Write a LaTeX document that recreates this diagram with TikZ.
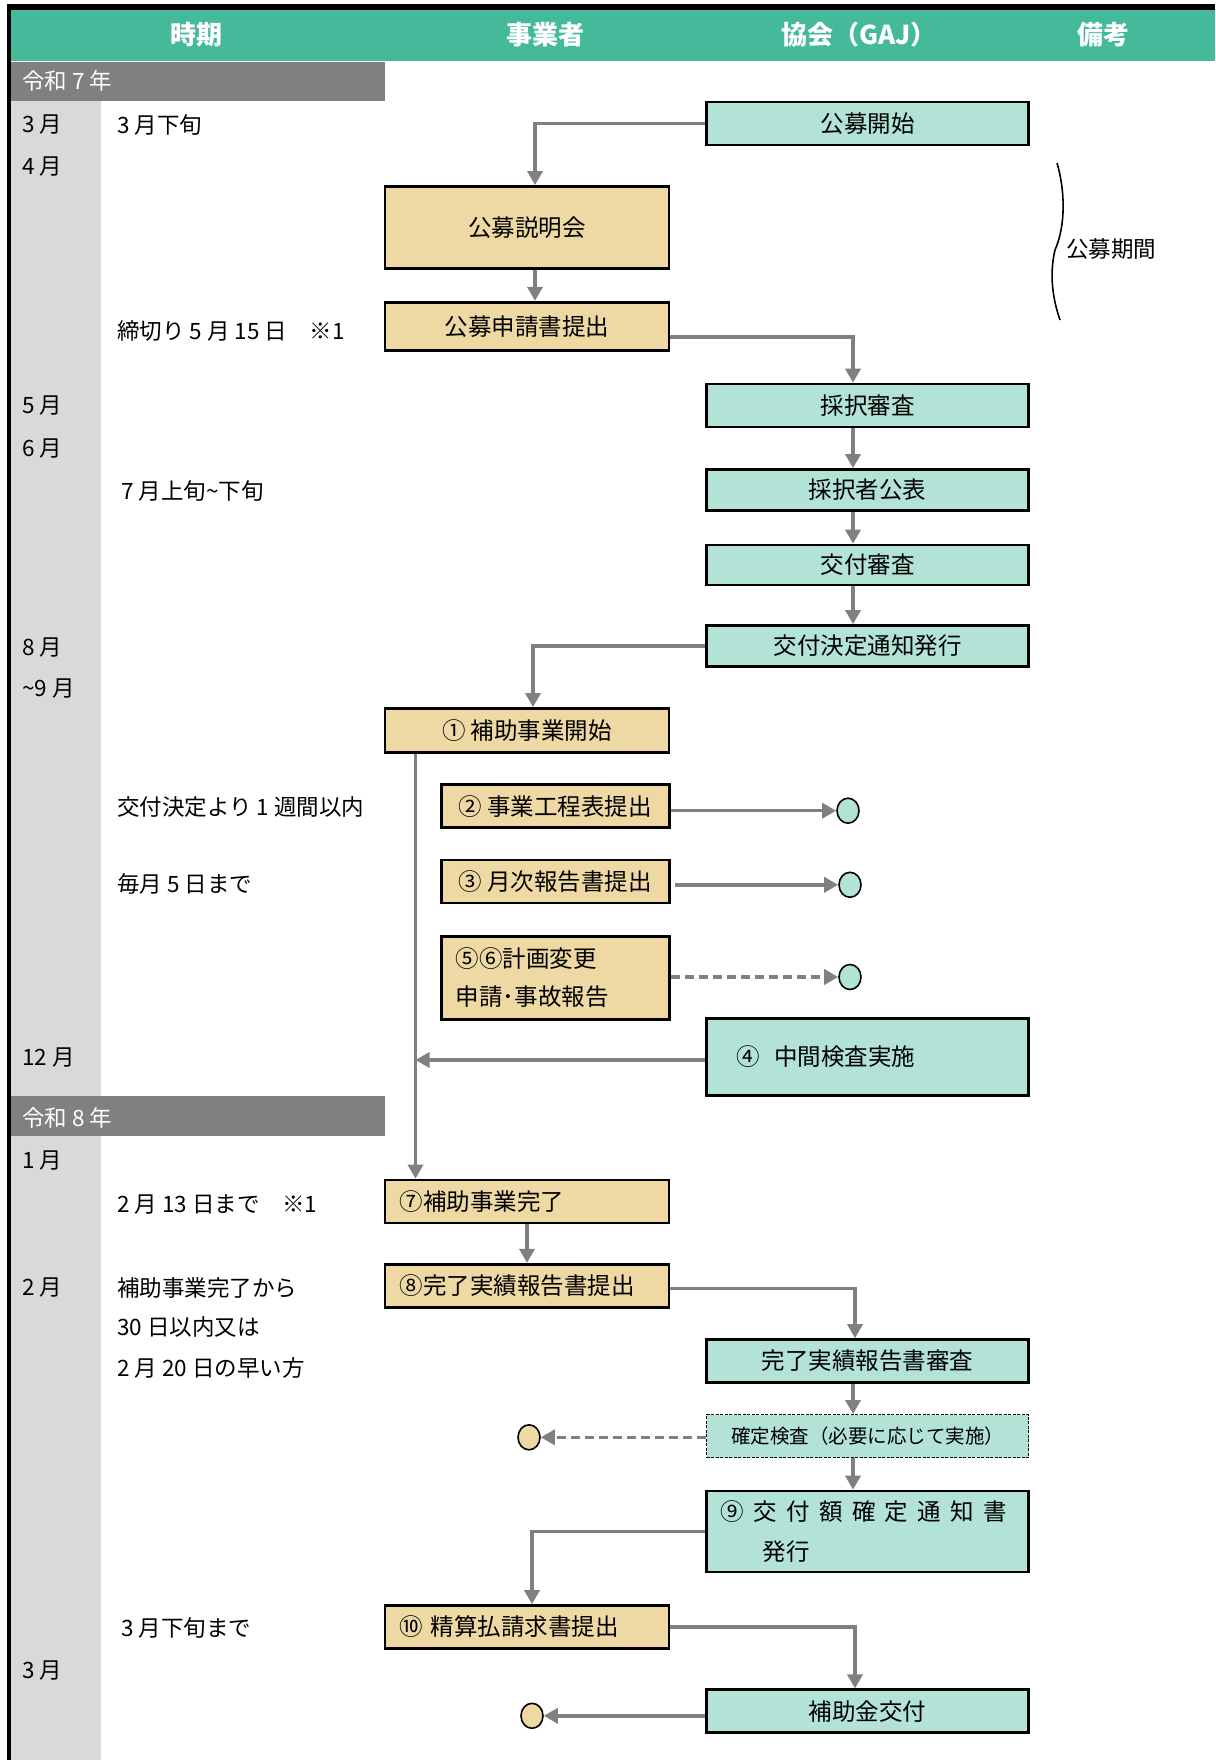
\documentclass[tikz,border=0pt]{standalone}
\usepackage{fontspec}
\newfontfamily\jp{Noto Sans CJK JP}
\usetikzlibrary{arrows.meta,shapes.geometric}

\definecolor{headgreen}{RGB}{68,186,154}
\definecolor{gajmint}{RGB}{179,227,215}
\definecolor{biztan}{RGB}{238,217,164}
\definecolor{bargray}{RGB}{128,128,128}
\definecolor{colgray}{RGB}{217,217,217}

\tikzset{
  box/.style={draw=black, line width=2.7pt, minimum height=43pt, inner sep=0pt,
    font=\jp\fontsize{23.5}{38}\selectfont},
  bizbox/.style={box, fill=biztan, minimum width=284pt},
  subbox/.style={box, fill=biztan, minimum width=228pt},
  gajbox/.style={box, fill=gajmint, minimum width=322pt},
  arr/.style={draw=bargray, line width=3.5pt, -{Triangle[width=15pt,length=14pt]}},
  dashedarr/.style={arr, dash pattern=on 9pt off 5pt},
  dotg/.style={ellipse, draw=black, line width=1.6pt, fill=gajmint,
    minimum width=22pt, minimum height=25pt, inner sep=0pt},
  dotb/.style={dotg, fill=biztan},
  txt/.style={anchor=west, inner sep=0pt, font=\jp\fontsize{22.5}{27}\selectfont},
  head/.style={text=white, font=\jp\bfseries\fontsize{26}{30}\selectfont},
}

\begin{document}
\begin{tikzpicture}[x=1pt,y=-1pt]
  \useasboundingbox (0,0) rectangle (1215,1760);

  % table frame
  \fill[colgray] (11,101) rectangle (101,1760);
  \fill[headgreen] (11,10) rectangle (1215,61);
  \fill[black] (7,4) rectangle (1215,10);
  \fill[black] (7,4) rectangle (11,1760);
  \fill[bargray] (11,62) rectangle (385,101);
  \fill[bargray] (11,1096) rectangle (385,1136);

  \node[head] (h1) at (196,35) {時期};
  \node[head] (h2) at (545,35) {事業者};
  \node[head] (h3) at (859,35) {協会（GAJ）};
  \node[head] (h4) at (1103,35) {備考};

  \node[txt, text=white] (y7) at (22,81) {令和 7 年};
  \node[txt, text=white] (y8) at (22,1118) {令和 8 年};

  % months
  \node[txt] (m1) at (22,125) {3 月};
  \node[txt] (m2) at (22,167) {4 月};
  \node[txt] (m3) at (22,406) {5 月};
  \node[txt] (m4) at (22,449) {6 月};
  \node[txt] (m5) at (22,648) {8 月};
  \node[txt] (m6) at (22,689) {\textasciitilde 9 月};
  \node[txt] (m7) at (22,1058) {12 月};
  \node[txt] (m8) at (22,1161) {1 月};
  \node[txt] (m9) at (22,1288) {2 月};
  \node[txt] (m10) at (22,1671) {3 月};

  % notes
  \node[txt] (n1) at (117,125) {3 月下旬};
  \node[txt] (n2) at (117,331) {締切り 5 月 15 日\hspace{1em}※1};
  \node[txt] (n3) at (121,491) {7 月上旬\textasciitilde 下旬};
  \node[txt] (n4) at (117,807) {交付決定より 1 週間以内};
  \node[txt] (n5) at (117,884) {毎月 5 日まで};
  \node[txt] (n6) at (117,1204) {2 月 13 日まで\hspace{1em}※1};
  \node[txt] (n7) at (117,1288) {補助事業完了から};
  \node[txt] (n8) at (117,1327) {30 日以内又は};
  \node[txt] (n9) at (117,1368) {2 月 20 日の早い方};
  \node[txt] (n10) at (121,1628) {3 月下旬まで};

  % GAJ side
  \node[gajbox] (kaishi) at (867.5,123.5) {公募開始};
  \node[gajbox] (shinsa) at (867.5,405.5) {採択審査};
  \node[gajbox, minimum height=41pt] (kohyo) at (867.5,490) {採択者公表};
  \node[gajbox, minimum height=40pt] (kofu) at (867.5,565) {交付審査};
  \node[gajbox, minimum height=41pt] (tsuchi) at (867.5,646) {交付決定通知発行};
  \node[gajbox, minimum height=77pt, text width=262pt, align=left] (chukan) at (867.5,1057)
    {④\hspace{.6em}中間検査実施};
  \node[gajbox] (jisshin) at (867.5,1361) {完了実績報告書審査};
  \node[gajbox, line width=1pt, dash pattern=on 3pt off 1.5pt,
    font=\jp\fontsize{19.5}{24}\selectfont] (kakutei) at (867.5,1436) {確定検査（必要に応じて実施）};
  \node[gajbox, minimum height=81pt, text width=294pt, align=left, font=\jp\fontsize{23.5}{40}\selectfont] (gaku) at (867.5,1531.5)
    {⑨\hspace{.4em}交\hspace{.4em}付\hspace{.4em}額\hspace{.4em}確\hspace{.4em}定\hspace{.4em}通\hspace{.4em}知\hspace{.4em}書\\\hspace*{1.8em}発行};
  \node[gajbox] (hojokin) at (867.5,1711.3) {補助金交付};

  % business side
  \node[bizbox, minimum height=82pt] (setsumei) at (527,227.4) {公募説明会};
  \node[bizbox, minimum height=48pt] (shinsei) at (527,326.2) {公募申請書提出};
  \node[bizbox, minimum height=44pt] (s1) at (527,730.4) {① 補助事業開始};
  \node[subbox] (s2) at (555.3,806.2) {② 事業工程表提出};
  \node[subbox] (s3) at (555.3,881.5) {③ 月次報告書提出};
  \node[subbox, minimum height=83pt, text width=199pt, align=left] (s56) at (555.3,978)
    {⑤⑥計画変更\\申請･事故報告};
  \node[bizbox, text width=255pt, align=left] (s7) at (527,1201.5) {⑦補助事業完了};
  \node[bizbox, text width=255pt, align=left] (s8) at (527,1285.7) {⑧完了実績報告書提出};
  \node[bizbox, text width=255pt, align=left] (s10) at (527,1627) {⑩ 精算払請求書提出};

  % end points
  \node[dotg] (c2) at (848,810.7) {};
  \node[dotg] (c3) at (850,884.8) {};
  \node[dotg] (c56) at (850,977) {};
  \node[dotb] (c8) at (529,1437.3) {};
  \node[dotb] (c10) at (532,1715.8) {};

  \coordinate (bx) at (535,0);
  \coordinate (gx) at (853,0);
  \coordinate (tx) at (415.5,0);

  % connectors
  \draw[arr] (kaishi.west) -| (setsumei.north -| bx);
  \draw[arr] (setsumei.south -| bx) -- (shinsei.north -| bx);
  \draw[arr] ([yshift=-11pt]shinsei.east) -| (shinsa.north -| gx);
  \draw[arr] (shinsa.south -| gx) -- (kohyo.north -| gx);
  \draw[arr] (kohyo.south -| gx) -- (kofu.north -| gx);
  \draw[arr] (kofu.south -| gx) -- (tsuchi.north -| gx);
  \draw[arr] (tsuchi.west) -| ([xshift=-2pt]s1.north -| bx);
  \draw[arr] (s1.south -| tx) -- (s7.north -| tx);
  \draw[arr] (s2.east |- c2) -- (c2);
  \draw[arr] ([xshift=4pt]s3.east |- c3) -- (c3);
  \draw[dashedarr] (s56.east |- c56) -- (c56);
  \draw[arr] ([yshift=-3pt]chukan.west) -- ([yshift=-3pt]chukan.west -| tx);
  \draw[arr] (s7.south) -- (s8.north);
  \draw[arr] ([yshift=-3pt]s8.east) -| ([xshift=2pt]jisshin.north -| gx);
  \draw[arr] (jisshin.south -| gx) -- (kakutei.north -| gx);
  \draw[dashedarr] (kakutei.west |- c8) -- (c8);
  \draw[arr] (kakutei.south -| gx) -- (gaku.north -| gx);
  \draw[arr] (gaku.west) -| ([xshift=-3pt]s10.north -| bx);
  \draw[arr] (s10.east) -| ([xshift=2pt]hojokin.north -| gx);
  \draw[arr] (hojokin.west |- c10) -- (c10);

  % brace for the application period
  \draw[line width=1.6pt] (1057,163) .. controls (1065,190) and (1066,225) .. (1055,250)
    .. controls (1049,275) and (1053,300) .. (1060,320);
  \node[txt, font=\jp\fontsize{22.5}{27}\selectfont] (kikan) at (1066,249) {公募期間};
\end{tikzpicture}
\end{document}
